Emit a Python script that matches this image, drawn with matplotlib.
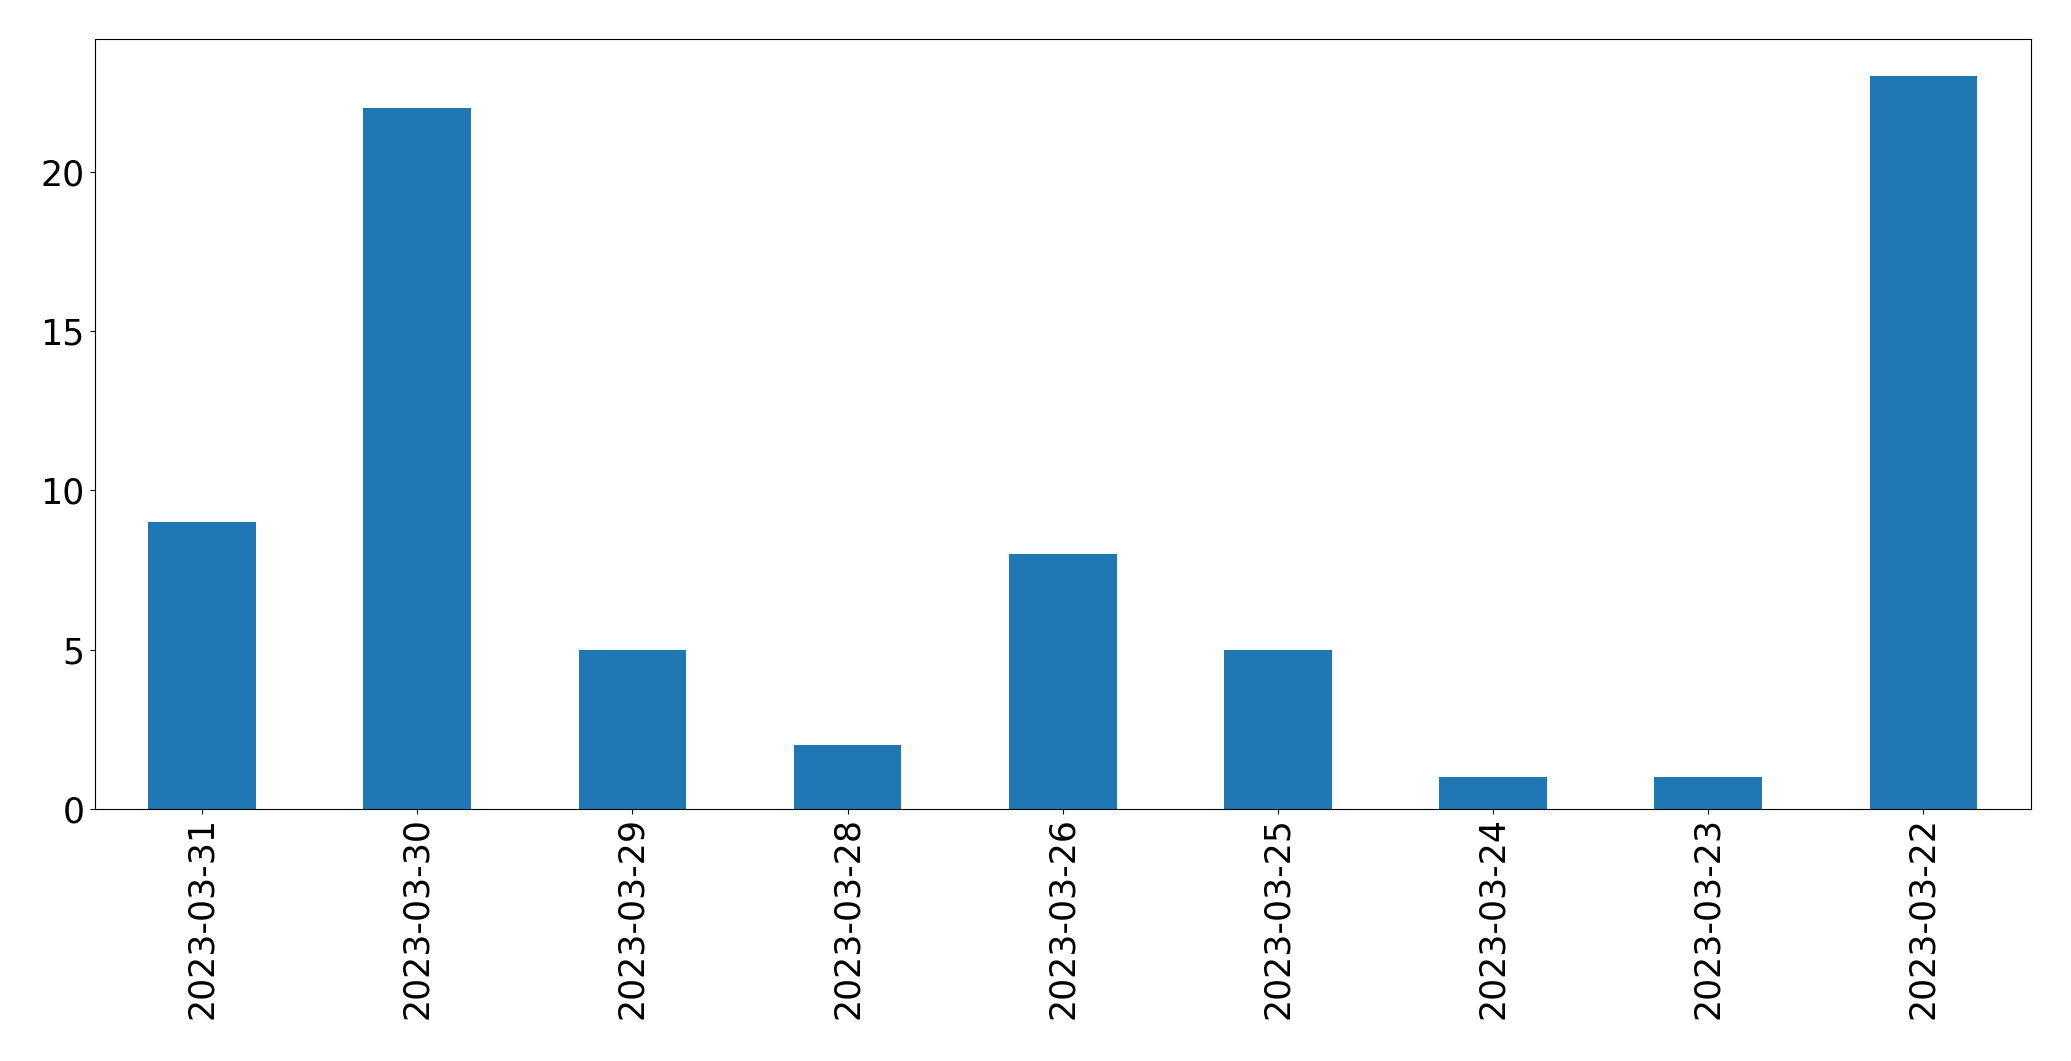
import matplotlib
matplotlib.use("Agg")
import matplotlib.pyplot as plt
import numpy as np

dates = ["2023-03-31", "2023-03-30", "2023-03-29", "2023-03-28", "2023-03-26",
         "2023-03-25", "2023-03-24", "2023-03-23", "2023-03-22"]
counts = [9, 22, 5, 2, 8, 5, 1, 1, 23]

fig = plt.figure(figsize=(20.71, 10.61), dpi=100)
ax = fig.add_axes([94.5 / 2071, 1 - 809 / 1061, (2031 - 94.5) / 2071, (809 - 39.3) / 1061])
x = np.arange(len(dates))
ax.bar(x, counts, width=0.5, color="#1f77b4")
ax.set_xlim(-0.5, len(dates) - 0.5)
ax.set_ylim(0, max(counts) * 1.05)
ax.set_xticks(x)
ax.set_xticklabels(dates, rotation=90)
ax.set_yticks([0, 5, 10, 15, 20])
ax.tick_params(labelsize=25)
ax.tick_params(axis="x", pad=2.5)
fig.savefig("out.png", dpi=100)
